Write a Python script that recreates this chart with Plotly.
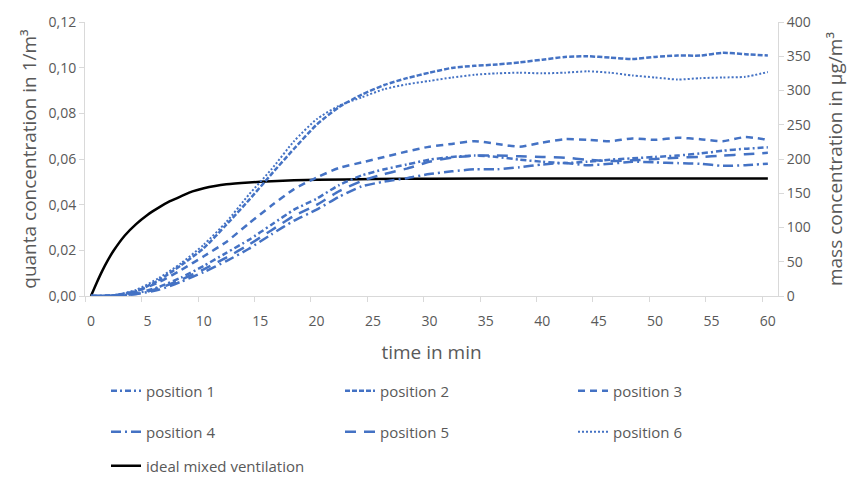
import plotly.graph_objects as go

# time grid of the measured positions (min)
time_pos = [0, 2, 4, 6, 8, 10, 12, 14, 16, 18, 20, 22, 24, 26, 28, 30,
            32, 34, 36, 38, 40, 42, 44, 46, 48, 50, 52, 54, 56, 58, 60]

# mass concentration in µg/m³
pos1 = [0, 0.5, 4, 13, 27, 44, 63, 82, 104, 126, 142, 162, 176, 185, 192, 199,
        203, 205, 203, 199, 196, 194, 196, 199, 201, 203, 205, 208, 212, 215, 217]
pos2 = [0, 1, 7, 23, 45, 70, 104, 140, 178, 215, 250, 276, 294, 308, 318, 326,
        333, 336, 338, 341, 345, 349, 350, 348, 346, 349, 351, 351, 355, 353, 351]
pos3 = [0, 1, 7, 20, 38, 58, 79, 106, 132, 156, 173, 187, 195, 203, 211, 218,
        222, 226, 222, 218, 224, 229, 228, 226, 230, 228, 231, 229, 226, 232, 228]
pos4 = [0, 0.5, 3, 9, 21, 35, 51, 69, 90, 110, 126, 145, 160, 167, 172, 178,
        182, 185, 185, 188, 192, 194, 191, 193, 196, 195, 194, 193, 190, 191, 193]
pos5 = [0, 0.5, 3, 11, 24, 39, 56, 75, 96, 117, 133, 153, 168, 178, 186, 196,
        202, 205, 205, 204, 203, 202, 199, 197, 198, 200, 202, 203, 205, 207, 209]
pos6 = [0, 1, 9, 26, 48, 75, 108, 148, 185, 226, 258, 278, 290, 302, 309, 314,
        319, 323, 325, 326, 325, 326, 328, 326, 322, 319, 316, 318, 319, 320, 327]

# ideal mixed ventilation, quanta concentration in 1/m³
time_ideal = [0, 0.5, 1, 1.5, 2, 3, 4, 5, 6, 7, 8, 9, 10, 11, 12, 14, 16, 18,
              20, 25, 30, 40, 50, 60]
ideal = [0, 0.0057, 0.011, 0.0157, 0.0198, 0.0265, 0.0315, 0.0355, 0.0387,
         0.0415, 0.0437, 0.0458, 0.0472, 0.0482, 0.0489, 0.0497, 0.0503,
         0.0507, 0.0509, 0.0512, 0.0514, 0.0515, 0.0515, 0.0515]

x_ticks = [0, 5, 10, 15, 20, 25, 30, 35, 40, 45, 50, 55, 60]

BLUE = "#4472C4"
GREY = "#595959"
AXIS = "#D9D9D9"
FONT = "Open Sans"

series = [
    ("position 1", pos1, "6px,3px,2px,3px", 2.5),
    ("position 2", pos2, "5px,2px", 2.5),
    ("position 3", pos3, "7px,5px", 2.5),
    ("position 4", pos4, "10px,4px,2px,4px", 2.5),
    ("position 5", pos5, "11px,8px", 2.5),
    ("position 6", pos6, "2px,2px", 2),
]

# legend layout (one legend per entry, Excel-like grid below the plot)
leg_text_x = [146, 380, 613, 146, 380, 613, 146]
leg_text_y = [391, 391, 391, 432, 432, 432, 466]
leg_ids = ["legend"] + ["legend%d" % i for i in range(2, 8)]

fig = go.Figure()
for i, (name, vals, dash, w) in enumerate(series):
    fig.add_trace(go.Scatter(
        x=time_pos, y=vals, name=name, mode="lines", yaxis="y2",
        line=dict(color=BLUE, width=w, dash=dash, shape="spline", smoothing=0.6),
        legend=leg_ids[i],
    ))
fig.add_trace(go.Scatter(
    x=time_ideal, y=ideal, name="ideal mixed ventilation", mode="lines",
    line=dict(color="black", width=2.5, shape="spline", smoothing=0.6),
    legend=leg_ids[6],
))

legends = {}
for i, lid in enumerate(leg_ids):
    legends[lid] = dict(orientation="h", xref="container", yref="container",
                        x=(leg_text_x[i] - 40) / 854, y=1 - leg_text_y[i] / 477,
                        xanchor="left", yanchor="middle",
                        font=dict(family=FONT, size=15, color=GREY),
                        bgcolor="rgba(0,0,0,0)")

fig.update_layout(
    width=854, height=477,
    margin=dict(l=85, r=75, t=17, b=181),
    paper_bgcolor="white", plot_bgcolor="white",
    separators=",.",
    font=dict(family=FONT, size=14, color=GREY),
    showlegend=True,
    xaxis=dict(
        range=[-0.53, 60.9], tickvals=x_ticks, ticks="", ticklabelstandoff=12,
        showline=True, linecolor=AXIS, linewidth=1, showgrid=False, zeroline=False,
        minor=dict(tick0=-0.5, dtick=5, ticks="outside", ticklen=5, tickcolor=AXIS),
        tickfont=dict(family=FONT, size=14, color=GREY),
        title=dict(text="time in min", font=dict(family=FONT, size=19, color=GREY), standoff=16),
    ),
    yaxis=dict(
        range=[0, 0.12], dtick=0.02, tickformat=".2f",
        showline=True, linecolor=AXIS, linewidth=1, showgrid=False, zeroline=False,
        ticks="outside", ticklen=5, tickcolor=AXIS,
        tickfont=dict(family=FONT, size=14, color=GREY),
        title=dict(text="quanta concentration in 1/m³", font=dict(family=FONT, size=19, color=GREY), standoff=6),
    ),
    yaxis2=dict(
        range=[0, 400], dtick=50, overlaying="y", side="right",
        showline=True, linecolor=AXIS, linewidth=1, showgrid=False, zeroline=False,
        ticks="outside", ticklen=5, tickcolor=AXIS,
        tickfont=dict(family=FONT, size=14, color=GREY),
        title=dict(text="mass concentration in µg/m³", font=dict(family=FONT, size=19, color=GREY), standoff=18),
    ),
    **legends,
)

fig.write_html("out.html")
